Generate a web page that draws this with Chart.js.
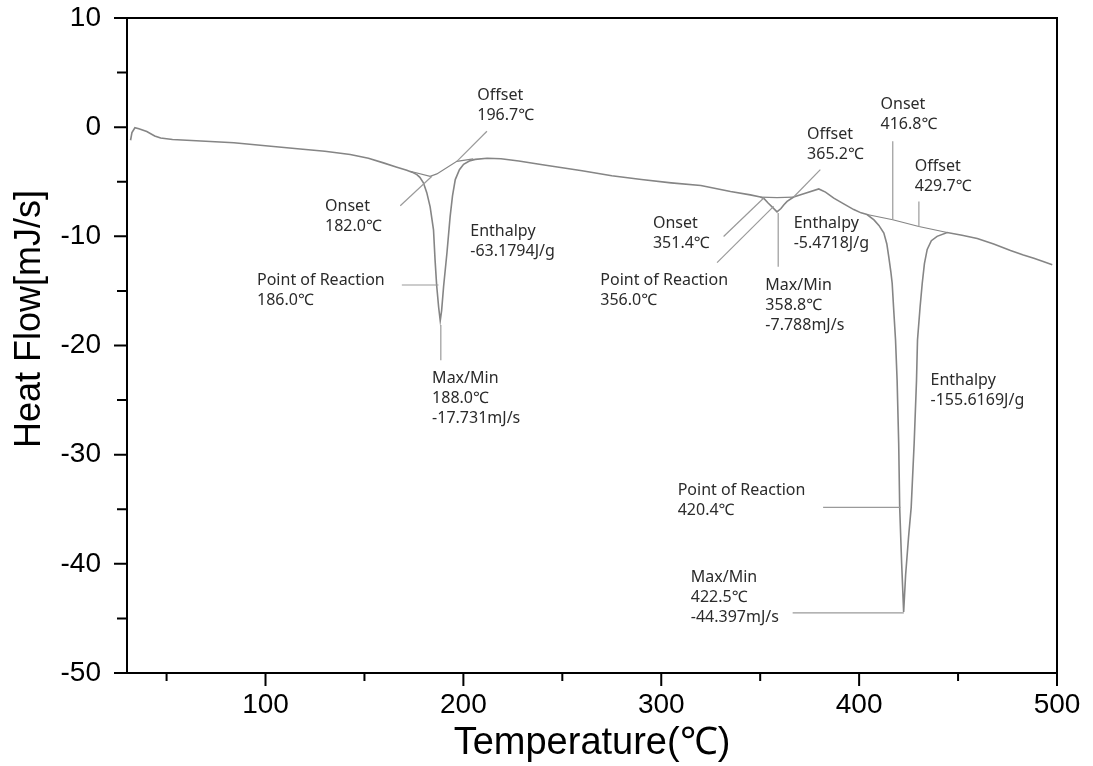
<!DOCTYPE html>
<html>
<head>
<meta charset="utf-8">
<script src="https://cdn.jsdelivr.net/npm/chart.js@4"></script>
<style>
  html, body { margin: 0; padding: 0; background: #fff; }
  canvas { display: block; }
</style>
</head>
<body>
<canvas id="dscChart" width="1093" height="766"></canvas>
<script>
// ---- data ----
const tempC = [31.8, 32.5, 34, 36, 40, 44, 47, 53, 65, 84, 100, 117.5, 130, 142.8, 152, 159.6, 166, 171.4,
    174, 176.5, 178, 179.8, 181.5, 183.2, 184.9, 185.7, 186.5, 187.5, 188.3, 189, 190, 191.7, 193.3, 194.5,
    195.9, 198, 200.1, 203, 206, 212, 219, 228, 240, 260, 275, 290, 305, 320, 335, 345, 350.1, 352, 354, 356,
    358.5, 360.5, 362, 363.6, 366.9, 372, 379.6, 383, 387.2, 392, 397.3, 401, 404, 407.5, 410, 412.5, 414,
    415, 416, 416.7, 417.5, 418.4, 419.2, 420, 420.5, 421.5, 422.5, 423.5, 425, 426.3, 427.8, 429, 429.5,
    430.8, 431.9, 433, 434.4, 436.5, 439.4, 444.5, 452, 459.7, 468, 476.5, 483, 488.3, 493, 497.6];
const heatFlow = [-1.2, -0.5, -0.05, -0.15, -0.4, -0.8, -1.0, -1.13, -1.25, -1.43, -1.7, -2.0, -2.2, -2.5, -2.85, -3.27, -3.65, -3.95,
    -4.12, -4.35, -4.6, -5.1, -6.0, -7.3, -9.4, -12.2, -14.5, -16.5, -17.73, -16.8, -14.6, -11.5, -8.2, -6.3,
    -4.8, -3.9, -3.4, -3.1, -2.95, -2.85, -2.9, -3.1, -3.45, -4.0, -4.45, -4.8, -5.1, -5.35, -5.9, -6.2, -6.4, -6.55, -6.95, -7.3,
    -7.76, -7.45, -7.1, -6.8, -6.4, -6.1, -5.66, -5.95, -6.5, -7.0, -7.55, -7.85, -8.0, -8.5, -9.0, -9.7, -10.7,
    -11.9, -13.2, -14.3, -16.8, -19.5, -23.2, -29, -34.85, -40, -44.4, -41, -37.5, -34.85, -29, -23.2, -19.5,
    -16.5, -14.3, -12.5, -11.2, -10.4, -10.0, -9.65, -9.9, -10.2, -10.7, -11.3, -11.7, -12.0, -12.3, -12.6];

// integration baselines drawn by the instrument software
const base1Temp = [173.1, 183.2, 186.6, 196.7, 205];
const base1Flow = [-4.04, -4.5, -4.28, -3.13, -2.9];
const base2Temp = [350.1, 358.5, 366.9];
const base2Flow = [-6.4, -6.45, -6.4];
const base3Temp = [404, 417, 430.2, 444.5];
const base3Flow = [-8.0, -8.48, -9.1, -9.65];

// axis ticks
const xMajorTicks = [100, 200, 300, 400, 500];
const xMinorTicks = [50, 150, 250, 350, 450];
const yMajorTicks = [10, 0, -10, -20, -30, -40, -50];
const yMinorTicks = [5, -5, -15, -25, -35, -45];

// annotation labels (text anchor + leader line, in data units)
const annotations = [
    { lines: ['Offset', '196.7℃'], at: [207.0, 2.9], leader: [[211.9, -0.37], [196.7, -3.13]] },
    { lines: ['Onset', '182.0℃'], at: [130.1, -7.29], leader: [[168.1, -7.2], [184.1, -4.5]] },
    { lines: ['Enthalpy', '-63.1794J/g'], at: [203.5, -9.56] },
    { lines: ['Point of Reaction', '186.0℃'], at: [95.7, -14.0], leader: [[168.9, -14.46], [187.4, -14.46]] },
    { lines: ['Max/Min', '188.0℃', '-17.731mJ/s'], at: [184.2, -22.98], leader: [[188.6, -18.13], [188.6, -21.35]] },
    { lines: ['Onset', '351.4℃'], at: [295.8, -8.79], leader: [[331.5, -10.02], [351.8, -6.49]] },
    { lines: ['Point of Reaction', '356.0℃'], at: [269.2, -14.0], leader: [[328.2, -12.41], [356.8, -7.26]] },
    { lines: ['Offset', '365.2℃'], at: [373.7, -0.67], leader: [[380.4, -3.89], [366.9, -6.4]] },
    { lines: ['Max/Min', '358.8℃', '-7.788mJ/s'], at: [352.6, -14.46], leader: [[359.1, -7.87], [359.1, -12.78]] },
    { lines: ['Enthalpy', '-5.4718J/g'], at: [366.9, -8.79] },
    { lines: ['Onset', '416.8℃'], at: [410.8, 2.09], leader: [[417.0, -1.29], [417.0, -8.48]] },
    { lines: ['Offset', '429.7℃'], at: [428.1, -3.58], leader: [[430.2, -6.8], [430.2, -9.15]] },
    { lines: ['Enthalpy', '-155.6169J/g'], at: [436.1, -23.19] },
    { lines: ['Point of Reaction', '420.4℃'], at: [308.3, -33.3], leader: [[381.8, -34.83], [420.9, -34.83]] },
    { lines: ['Max/Min', '422.5℃', '-44.397mJ/s'], at: [314.9, -41.27], leader: [[366.4, -44.49], [422.6, -44.49]] }
];

const toPoints = (xs, ys) => xs.map((x, i) => ({ x: x, y: ys[i] }));

// frame, tick marks, y title and annotation texts
const dscDecor = {
    id: 'dscDecor',
    afterDraw(chart) {
        const ctx = chart.ctx;
        const xs = chart.scales.x;
        const ys = chart.scales.y;
        const area = chart.chartArea;

        ctx.save();
        ctx.strokeStyle = '#000';
        ctx.lineWidth = 2;
        ctx.strokeRect(area.left, area.top, area.right - area.left, area.bottom - area.top);

        ctx.beginPath();
        xMajorTicks.forEach(v => {
            const px = xs.getPixelForValue(v);
            ctx.moveTo(px, area.bottom); ctx.lineTo(px, area.bottom + 13);
        });
        xMinorTicks.forEach(v => {
            const px = xs.getPixelForValue(v);
            ctx.moveTo(px, area.bottom); ctx.lineTo(px, area.bottom + 8);
        });
        yMajorTicks.forEach(v => {
            const py = ys.getPixelForValue(v);
            ctx.moveTo(area.left - 13, py); ctx.lineTo(area.left, py);
        });
        yMinorTicks.forEach(v => {
            const py = ys.getPixelForValue(v);
            ctx.moveTo(area.left - 10, py); ctx.lineTo(area.left, py);
        });
        ctx.stroke();

        // y axis title
        ctx.save();
        ctx.translate(30, 319);
        ctx.rotate(-Math.PI / 2);
        ctx.fillStyle = '#000';
        ctx.font = '36px "Liberation Sans", Arial, sans-serif';
        ctx.textAlign = 'center';
        ctx.textBaseline = 'middle';
        ctx.fillText('Heat Flow[mJ/s]', 0, 0);
        ctx.restore();

        // annotations
        ctx.strokeStyle = '#9a9a9a';
        ctx.lineWidth = 1.2;
        ctx.fillStyle = '#2b2b2b';
        ctx.font = '16px "Noto Sans", "Noto Sans CJK KR", sans-serif';
        ctx.textAlign = 'left';
        ctx.textBaseline = 'middle';
        annotations.forEach(a => {
            if (a.leader) {
                ctx.beginPath();
                ctx.moveTo(xs.getPixelForValue(a.leader[0][0]), ys.getPixelForValue(a.leader[0][1]));
                ctx.lineTo(xs.getPixelForValue(a.leader[1][0]), ys.getPixelForValue(a.leader[1][1]));
                ctx.stroke();
            }
            const tx = xs.getPixelForValue(a.at[0]);
            const ty = ys.getPixelForValue(a.at[1]);
            a.lines.forEach((line, i) => ctx.fillText(line, tx, ty + i * 20));
        });
        ctx.restore();
    }
};

const curveStyle = {
    borderColor: '#858585',
    borderWidth: 1.6,
    pointRadius: 0,
    tension: 0,
    fill: false
};

new Chart(document.getElementById('dscChart').getContext('2d'), {
    type: 'line',
    data: {
        datasets: [
            Object.assign({ label: 'Heat Flow', data: toPoints(tempC, heatFlow) }, curveStyle),
            Object.assign({ label: 'Baseline 1', data: toPoints(base1Temp, base1Flow) }, curveStyle, { borderWidth: 1.2 }),
            Object.assign({ label: 'Baseline 2', data: toPoints(base2Temp, base2Flow) }, curveStyle, { borderWidth: 1.2 }),
            Object.assign({ label: 'Baseline 3', data: toPoints(base3Temp, base3Flow) }, curveStyle, { borderWidth: 1.2 })
        ]
    },
    options: {
        responsive: false,
        devicePixelRatio: 1,
        animation: false,
        layout: { padding: { top: 18, right: 36, left: 0, bottom: 0 } },
        plugins: {
            legend: { display: false },
            tooltip: { enabled: false }
        },
        scales: {
            x: {
                type: 'linear',
                min: 30,
                max: 500,
                afterFit: s => { s.height = 93; s.paddingLeft = 0; s.paddingRight = 0; },
                afterBuildTicks: s => { s.ticks = xMajorTicks.map(v => ({ value: v })); },
                grid: { display: false, drawTicks: false },
                border: { display: true, color: '#000', width: 2 },
                ticks: {
                    color: '#000',
                    padding: 15,
                    maxRotation: 0,
                    font: { family: '"Liberation Sans", Arial, sans-serif', size: 28 }
                },
                title: {
                    display: true,
                    text: 'Temperature(℃)',
                    color: '#000',
                    padding: { top: 0, bottom: 0 },
                    font: { family: '"Liberation Sans", Arial, sans-serif', size: 38 }
                }
            },
            y: {
                min: -50,
                max: 10,
                afterFit: s => { s.width = 127; s.paddingTop = 0; s.paddingBottom = 0; },
                afterBuildTicks: s => { s.ticks = yMajorTicks.map(v => ({ value: v })); },
                grid: { display: false, drawTicks: false },
                border: { display: true, color: '#000', width: 2 },
                ticks: {
                    color: '#000',
                    padding: 26,
                    font: { family: '"Liberation Sans", Arial, sans-serif', size: 28 }
                }
            }
        }
    },
    plugins: [dscDecor]
});
</script>
</body>
</html>
